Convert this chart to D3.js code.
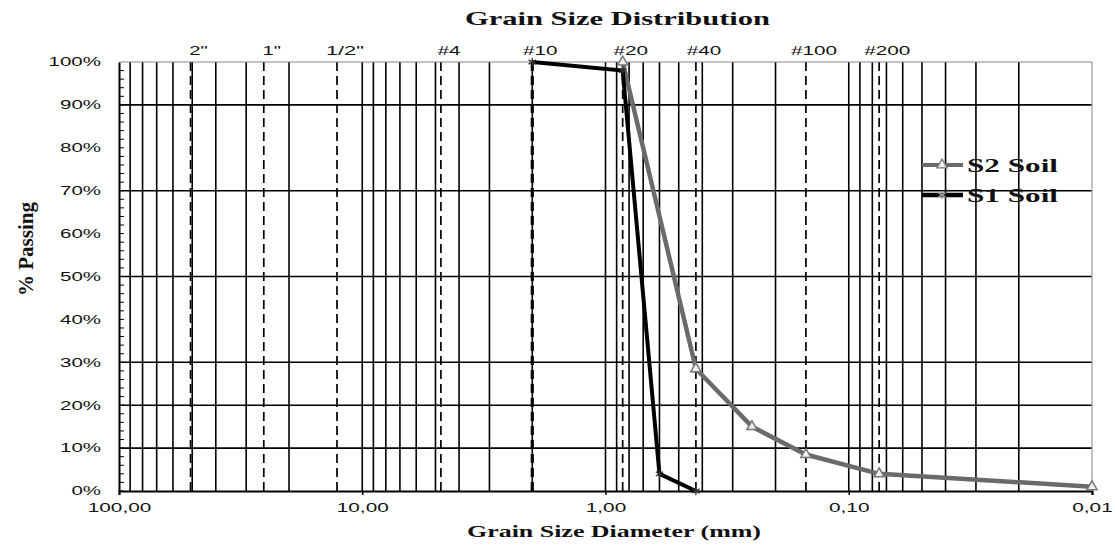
<!DOCTYPE html>
<html>
<head>
<meta charset="utf-8">
<script src="https://cdn.jsdelivr.net/npm/d3@7"></script>
<style>
  body { margin: 0; background: #fff; }
  svg { display: block; }
  .lbl { font-family: "Liberation Sans", Arial, sans-serif; font-size: 12px; fill: #111; }
  .ttl { font-family: "Liberation Serif", "Times New Roman", serif; font-weight: bold; fill: #111; }
</style>
</head>
<body>
<svg id="chart" width="1115" height="545"></svg>
<script>
// sieve reference lines
const sieveSizes = [50.8, 25.4, 12.7, 4.75, 2.0, 0.85, 0.425, 0.15, 0.075];
const sieveLabels = ['2"', '1"', '1/2"', '#4', '#10', '#20', '#40', '#100', '#200'];

// series
const s1Diameter = [2.0, 0.85, 0.6, 0.425];
const s1Passing = [100, 98, 4, 0];
const s2Diameter = [0.85, 0.425, 0.25, 0.15, 0.075, 0.01];
const s2Passing = [100, 28.5, 15, 8.5, 4, 1];

// axes
const xTickValues = [100, 10, 1, 0.1, 0.01];
const xTickLabels = ['100,00', '10,00', '1,00', '0,10', '0,01'];
const yTickValues = [0, 10, 20, 30, 40, 50, 60, 70, 80, 90, 100];
const yGridValues = [10, 20, 30, 50, 70, 90];

const svg = d3.select('#chart');
const pLeft = 119, pRight = 1092, pTop = 62, pBottom = 491;

const x = d3.scaleLog().domain([100, 0.01]).range([pLeft, pRight]);
const y = d3.scaleLinear().domain([0, 100]).range([pBottom, pTop]);

// rough widths of the stretched glyphs in the picture
const charW = { '%': 18, ',': 6, '"': 7, '/': 8 };
function textW(s) {
  let w = 0;
  for (const c of s) w += charW[c] || 11.5;
  return w;
}
function stretch(sel, w) {
  sel.attr('textLength', w).attr('lengthAdjust', 'spacingAndGlyphs');
}

const grid = svg.append('g');

// vertical log grid
grid.append('g').selectAll('line')
  .data(x.ticks().filter(d => d < 100 && d > 0.01))
  .join('line')
  .attr('x1', d => x(d)).attr('x2', d => x(d))
  .attr('y1', pTop).attr('y2', pBottom)
  .attr('stroke', '#000').attr('stroke-width', 1.6);

// horizontal grid
grid.append('g').selectAll('line')
  .data(yGridValues)
  .join('line')
  .attr('x1', pLeft).attr('x2', pRight)
  .attr('y1', d => y(d)).attr('y2', d => y(d))
  .attr('stroke', '#000').attr('stroke-width', 1.6);

// sieve lines
grid.append('g').selectAll('line')
  .data(sieveSizes)
  .join('line')
  .attr('x1', d => x(d)).attr('x2', d => x(d))
  .attr('y1', pTop).attr('y2', pBottom)
  .attr('stroke', '#000')
  .attr('stroke-width', d => d === 2.0 ? 3.2 : 1.7)
  .attr('stroke-dasharray', '9,5');

svg.append('g').selectAll('text')
  .data(sieveSizes)
  .join('text')
  .attr('class', 'lbl')
  .attr('x', d => x(d) + 8)
  .attr('y', 55)
  .attr('text-anchor', 'middle')
  .text((d, i) => sieveLabels[i])
  .each(function (d, i) { stretch(d3.select(this), textW(sieveLabels[i])); });

// frame: top and right lighter
svg.append('line').attr('x1', pLeft).attr('x2', pRight).attr('y1', pTop).attr('y2', pTop)
  .attr('stroke', '#888').attr('stroke-width', 1.2);
svg.append('line').attr('x1', pRight).attr('x2', pRight).attr('y1', pTop).attr('y2', pBottom)
  .attr('stroke', '#999').attr('stroke-width', 1.2);

// x axis
const xAxis = svg.append('g')
  .attr('transform', `translate(0,${pBottom})`)
  .call(d3.axisBottom(x).tickValues(xTickValues).tickSize(4)
    .tickFormat((d, i) => xTickLabels[i]));
xAxis.attr('font-size', null).attr('font-family', null);
xAxis.select('.domain').attr('stroke', '#000').attr('stroke-width', 2);
xAxis.selectAll('.tick line').attr('stroke', '#000').attr('stroke-width', 1.5);
xAxis.selectAll('.tick text')
  .attr('class', 'lbl')
  .attr('y', 10).attr('dy', '0.9em')
  .each(function (d, i) { stretch(d3.select(this), textW(xTickLabels[i])); });

// y axis
const yAxis = svg.append('g')
  .attr('transform', `translate(${pLeft},0)`)
  .call(d3.axisLeft(y).tickValues(yTickValues).tickSize(0)
    .tickFormat(d => d + '%'));
yAxis.attr('font-size', null).attr('font-family', null);
yAxis.select('.domain').attr('stroke', '#000').attr('stroke-width', 2);
yAxis.selectAll('.tick text')
  .attr('class', 'lbl')
  .attr('x', -18)
  .each(function (d) { stretch(d3.select(this), textW(d + '%')); });

// small inner ticks on the left axis
svg.append('g').selectAll('line')
  .data(d3.range(0, 100, 2))
  .join('line')
  .attr('x1', pLeft).attr('x2', pLeft + 5)
  .attr('y1', d => y(d)).attr('y2', d => y(d))
  .attr('stroke', '#000').attr('stroke-width', 1);

// series
const line = d3.line().x(d => x(d[0])).y(d => y(d[1]));
const s1 = s1Diameter.map((d, i) => [d, s1Passing[i]]);
const s2 = s2Diameter.map((d, i) => [d, s2Passing[i]]);

const tri = d3.symbol(d3.symbolTriangle, 45);
const star = d3.symbol(d3.symbolAsterisk, 50);

svg.append('path').datum(s2).attr('d', line)
  .attr('fill', 'none').attr('stroke', '#6a6a6a').attr('stroke-width', 4.5);
svg.append('path').datum(s1).attr('d', line)
  .attr('fill', 'none').attr('stroke', '#000').attr('stroke-width', 4);

svg.append('g').selectAll('path')
  .data(s2).join('path')
  .attr('transform', d => `translate(${x(d[0])},${y(d[1])})`)
  .attr('d', tri).attr('fill', '#eee').attr('stroke', '#777').attr('stroke-width', 1.5);
svg.append('g').selectAll('path')
  .data(s1).join('path')
  .attr('transform', d => `translate(${x(d[0])},${y(d[1])})`)
  .attr('d', star).attr('fill', 'none').attr('stroke', '#333').attr('stroke-width', 1.3);

// legend
const legend = [
  { label: 'S2 Soil', color: '#6a6a6a', width: 4, sym: tri, fill: '#eee', sStroke: '#777' },
  { label: 'S1 Soil', color: '#000', width: 4.5, sym: star, fill: 'none', sStroke: '#999' },
];
legend.forEach((d, i) => {
  const g = svg.append('g').attr('transform', `translate(922,${165 + i * 30})`);
  g.append('line').attr('x1', 0).attr('x2', 41)
    .attr('stroke', d.color).attr('stroke-width', d.width);
  g.append('path').attr('transform', 'translate(20,0)')
    .attr('d', d.sym).attr('fill', d.fill).attr('stroke', d.sStroke).attr('stroke-width', 1.3);
  g.append('text').attr('class', 'ttl').attr('x', 45).attr('y', 7)
    .attr('font-size', 19).text(d.label)
    .call(stretch, 91);
});

// titles
svg.append('text').attr('class', 'ttl')
  .attr('x', 465).attr('y', 25).attr('font-size', 19)
  .text('Grain Size Distribution').call(stretch, 305);

svg.append('text').attr('class', 'ttl')
  .attr('x', 467).attr('y', 537).attr('font-size', 17)
  .text('Grain Size Diameter (mm)').call(stretch, 294);

svg.append('text').attr('class', 'ttl')
  .attr('transform', 'translate(33,296) rotate(-90)')
  .attr('font-size', 21)
  .text('% Passing').call(stretch, 94);
</script>
</body>
</html>
